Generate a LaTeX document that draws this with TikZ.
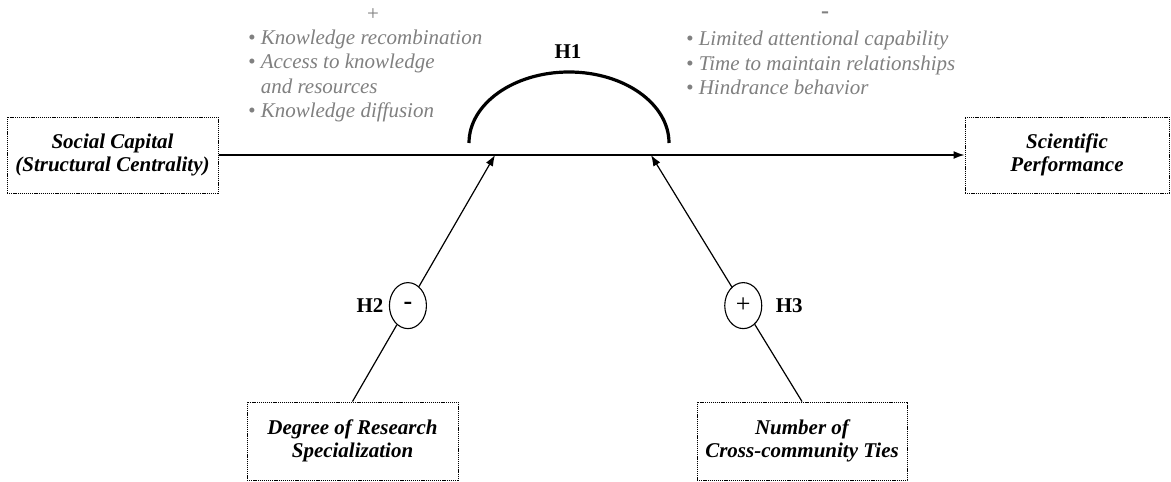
\documentclass[tikz,border=0pt]{standalone}
\usepackage{fontspec}
\setmainfont{Liberation Serif}
\usetikzlibrary{calc, arrows.meta, shapes.geometric}
\definecolor{notegray}{RGB}{128,128,128}

\begin{document}
\begin{tikzpicture}[x=1pt, y=-1pt,
                varbox/.style={draw, line width=1pt, dash pattern=on 1.2pt off 0.9pt, inner sep=0pt,
                    align=center, font=\fontsize{21}{23}\selectfont\bfseries\itshape},
                signbox/.style={draw, ellipse, line width=1.1pt, minimum width=37pt, minimum height=46pt,
                    inner sep=0pt, font=\fontsize{26}{28}\selectfont},
                hlabel/.style={font=\fontsize{21}{23}\selectfont\bfseries},
                notes/.style={text=notegray, align=left, inner sep=0pt,
                    font=\fontsize{21}{24.5}\selectfont\itshape},
                link/.style={line width=1.2pt, -{Latex[length=11pt, width=8pt]}}]
                \useasboundingbox (0,0) rectangle (1171,482);
                \node[varbox, minimum width=211pt, minimum height=76pt] (SC) at (112.5,155)
                    {Social Capital\\(Structural Centrality)};
                \node[varbox, minimum width=204pt, minimum height=76pt] (SP) at (1067,155)
                    {Scientific\\Performance};
                \node[varbox, minimum width=211pt, minimum height=78pt] (DR) at (352.5,441)
                    {Degree of Research\\Specialization};
                \node[varbox, minimum width=210pt, minimum height=78pt] (NC) at (802,441)
                    {Number of\\Cross-community Ties};
                \coordinate (M1) at (495,155);
                \coordinate (M2) at (651,155);
                \draw[link, line width=1.5pt] (SC.east) -- (SP.west);
                \node[signbox, font=\fontsize{26}{28}\selectfont\bfseries] (C2) at ($(DR.north)!0.389!(M1)$) {-};
                \node[signbox] (C3) at ($(NC.north)!0.389!(M2)$) {+};
                \draw[line width=1.2pt] (DR.north) -- (C2);
                \draw[link] (C2) -- (M1);
                \draw[line width=1.2pt] (NC.north) -- (C3);
                \draw[link] (C3) -- (M2);
                \draw[line width=3.2pt] (469,143) arc[start angle=180, end angle=360, x radius=100, y radius=71];
                \node[hlabel] (H1) at (568,52) {H1};
                \node[hlabel, anchor=east] (H2) at ($(C2.west)+(-2,0)$) {H2};
                \node[hlabel, anchor=west] (H3) at ($(C3.east)+(10,0)$) {H3};
                \node[notes, font=\fontsize{21}{24}\selectfont] (P) at (373,15) {+};
                \node[notes, anchor=west] (PL) at (248,76)
                    {\textbullet\ Knowledge recombination\\
                     \textbullet\ Access to knowledge\\
                     \phantom{\textbullet\ }and resources\\
                     \textbullet\ Knowledge diffusion};
                \node[notes, font=\fontsize{24}{24}\selectfont\bfseries] (N) at (825,15) {-};
                \node[notes, anchor=west] (NL) at (686,63)
                    {\textbullet\ Limited attentional capability\\
                     \textbullet\ Time to maintain relationships\\
                     \textbullet\ Hindrance behavior};
            \end{tikzpicture}
\end{document}
